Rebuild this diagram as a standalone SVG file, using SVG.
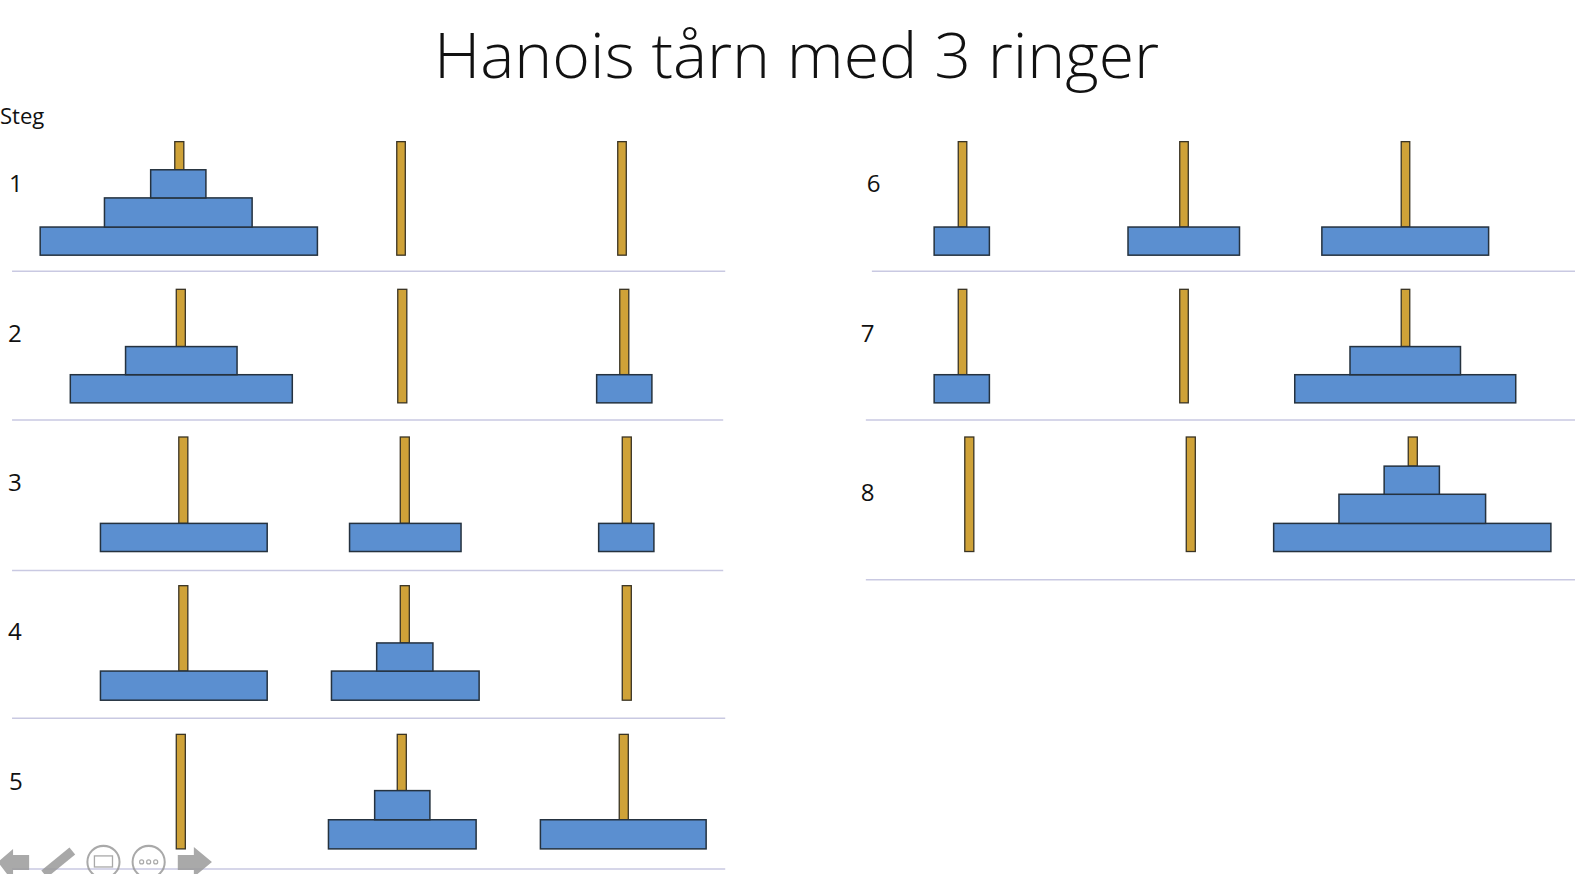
<svg xmlns="http://www.w3.org/2000/svg" width="1575" height="874" viewBox="0 0 1575 874">
<style>
.peg{fill:#CFA238;stroke:#3a3424;stroke-width:1.3}
.disc{fill:#5B8FD0;stroke:#25323f;stroke-width:1.5}
.sep{stroke:#c9c9e2;stroke-width:1.5}
.num{font-family:"Open Sans","Liberation Sans",sans-serif;font-size:24px;fill:#111}
.title{font-family:"Open Sans","Liberation Sans",sans-serif;font-weight:300;font-size:63px;fill:#111}
.ctl{fill:#9a9a9a;opacity:0.85}
.ctlo{fill:none;stroke:#9a9a9a;stroke-width:2;opacity:0.85}
</style>
<rect width="1575" height="874" fill="#ffffff"/>
<g transform="scale(1.00446 1.0046)">
<text class="title" x="793" y="78" text-anchor="middle" textLength="722" lengthAdjust="spacingAndGlyphs">Hanois tårn med 3 ringer</text>
<text class="num" x="0" y="123" style="font-size:22px">Steg</text>

<g id="separators">
<line class="sep" x1="12" y1="270" x2="722" y2="270"/>
<line class="sep" x1="12" y1="418" x2="720" y2="418"/>
<line class="sep" x1="12" y1="568" x2="720" y2="568"/>
<line class="sep" x1="12" y1="715" x2="722" y2="715"/>
<line class="sep" x1="12" y1="865" x2="722" y2="865"/>
<line class="sep" x1="868" y1="270" x2="1568" y2="270"/>
<line class="sep" x1="862" y1="418" x2="1568" y2="418"/>
<line class="sep" x1="862" y1="577" x2="1568" y2="577"/>
</g>

<g id="step-1">
<text class="num" x="9" y="191">1</text>
<rect class="peg" x="174" y="141" width="9" height="28"/>
<rect class="peg" x="395" y="141" width="8.5" height="113"/>
<rect class="peg" x="615" y="141" width="8.5" height="113"/>
<rect class="disc" x="40" y="226" width="276" height="28"/>
<rect class="disc" x="104" y="197" width="147" height="29"/>
<rect class="disc" x="150" y="169" width="55" height="28"/>
</g>

<g id="step-2">
<text class="num" x="8" y="340">2</text>
<rect class="peg" x="175.5" y="288" width="9" height="57"/>
<rect class="peg" x="396" y="288" width="9" height="113"/>
<rect class="peg" x="617" y="288" width="9" height="85"/>
<rect class="disc" x="70" y="373" width="221" height="28"/>
<rect class="disc" x="125" y="345" width="111" height="28"/>
<rect class="disc" x="594" y="373" width="55" height="28"/>
</g>

<g id="step-3">
<text class="num" x="8" y="489">3</text>
<rect class="peg" x="178" y="435" width="9" height="86"/>
<rect class="peg" x="398.5" y="435" width="9" height="86"/>
<rect class="peg" x="619.5" y="435" width="9" height="86"/>
<rect class="disc" x="100" y="521" width="166" height="28"/>
<rect class="disc" x="348" y="521" width="111" height="28"/>
<rect class="disc" x="596" y="521" width="55" height="28"/>
</g>

<g id="step-4">
<text class="num" x="8" y="637">4</text>
<rect class="peg" x="178" y="583" width="9" height="85"/>
<rect class="peg" x="398.5" y="583" width="9" height="57"/>
<rect class="peg" x="619.5" y="583" width="9" height="114"/>
<rect class="disc" x="100" y="668" width="166" height="29"/>
<rect class="disc" x="330" y="668" width="147" height="29"/>
<rect class="disc" x="375" y="640" width="56" height="28"/>
</g>

<g id="step-5">
<text class="num" x="9" y="786">5</text>
<rect class="peg" x="175.5" y="731" width="9" height="114"/>
<rect class="peg" x="395.5" y="731" width="9" height="56"/>
<rect class="peg" x="616.5" y="731" width="9" height="85"/>
<rect class="disc" x="327" y="816" width="147" height="29"/>
<rect class="disc" x="373" y="787" width="55" height="29"/>
<rect class="disc" x="538" y="816" width="165" height="29"/>
</g>

<g id="step-6">
<text class="num" x="863" y="191">6</text>
<rect class="peg" x="954" y="141" width="8.5" height="85"/>
<rect class="peg" x="1174.5" y="141" width="8.5" height="85"/>
<rect class="peg" x="1395" y="141" width="8.5" height="85"/>
<rect class="disc" x="930" y="226" width="55" height="28"/>
<rect class="disc" x="1123" y="226" width="111" height="28"/>
<rect class="disc" x="1316" y="226" width="166" height="28"/>
</g>

<g id="step-7">
<text class="num" x="857" y="340">7</text>
<rect class="peg" x="954" y="288" width="8.5" height="85"/>
<rect class="peg" x="1174.5" y="288" width="8.5" height="113"/>
<rect class="peg" x="1395" y="288" width="8.5" height="57"/>
<rect class="disc" x="930" y="373" width="55" height="28"/>
<rect class="disc" x="1289" y="373" width="220" height="28"/>
<rect class="disc" x="1344" y="345" width="110" height="28"/>
</g>

<g id="step-8">
<text class="num" x="857" y="499">8</text>
<rect class="peg" x="960.5" y="435" width="9" height="114"/>
<rect class="peg" x="1181" y="435" width="9" height="114"/>
<rect class="peg" x="1402" y="435" width="9" height="29"/>
<rect class="disc" x="1268" y="521" width="276" height="28"/>
<rect class="disc" x="1333" y="492" width="146" height="29"/>
<rect class="disc" x="1378" y="464" width="55" height="28"/>
</g>

<g id="controls">
<polygon class="ctl" points="-2,858 13,845 13,851 29,851 29,866 13,866 13,874 10,874"/>
<line x1="44" y1="870" x2="72" y2="847" stroke="#9a9a9a" stroke-width="9" opacity="0.85"/>
<circle class="ctlo" cx="103" cy="858" r="16"/>
<rect class="ctlo" x="94" y="852" width="18" height="11" style="stroke-width:1.3"/>
<circle class="ctlo" cx="148" cy="858" r="16"/>
<circle class="ctlo" cx="141" cy="858" r="2" style="stroke-width:1.2"/>
<circle class="ctlo" cx="148" cy="858" r="2" style="stroke-width:1.2"/>
<circle class="ctlo" cx="155" cy="858" r="2" style="stroke-width:1.2"/>
<polygon class="ctl" points="177,851 193,851 193,843 211,858 193,873 193,866 177,866"/>
</g>
</g>
</svg>
